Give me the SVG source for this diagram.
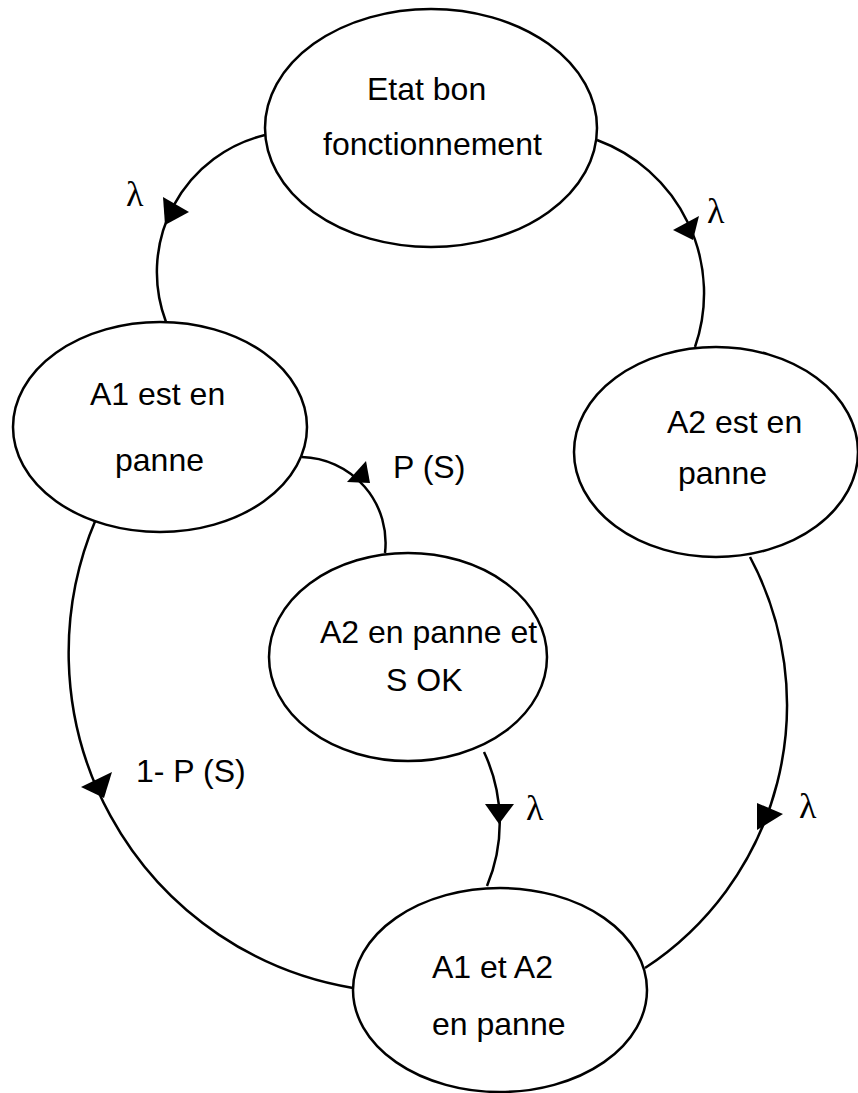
<svg xmlns="http://www.w3.org/2000/svg" width="858" height="1093" viewBox="0 0 858 1093">
  <style>
    .state { fill: #ffffff; stroke: #000000; stroke-width: 2.5; }
    .label { font-family: "Liberation Sans", Arial, sans-serif; font-size: 32px; fill: #000000; }
    .rate { font-family: "Liberation Serif", "Times New Roman", serif; font-size: 36px; fill: #000000; }
    .edge { fill: none; stroke: #000000; stroke-width: 2.5; }
    .head { fill: #000000; stroke: none; }
  </style>
  <rect width="858" height="1093" fill="#ffffff"/>

  <!-- transitions -->
  <g id="connectors">
    <path class="edge" d="M265,135 A141,141 0 0,0 166,322"/>
    <polygon class="head" points="163,197 189,212 165,225"/>
    <text class="rate" x="126" y="206">λ</text>

    <path class="edge" d="M597,140 A163.4,163.4 0 0,1 695,347"/>
    <polygon class="head" points="673,230 699,216 693,240"/>
    <text class="rate" x="707" y="223">λ</text>

    <path class="edge" d="M302,457 A86,86 0 0,1 385,553"/>
    <polygon class="head" points="347,482 366,461 370,483"/>
    <text class="label" x="393" y="478">P (S)</text>

    <path class="edge" d="M96,519 A340,340 0 0,0 353,988"/>
    <polygon class="head" points="81,787 112,772 104,798"/>
    <text class="label" x="136" y="782">1- P (S)</text>

    <path class="edge" d="M484,752 A165,165 0 0,1 487,886"/>
    <polygon class="head" points="485,804 514,804 499,824"/>
    <text class="rate" x="526" y="820">λ</text>

    <path class="edge" d="M750,557 A314.5,314.5 0 0,1 645,968"/>
    <polygon class="head" points="757,803 783,814 757,830"/>
    <text class="rate" x="799" y="818">λ</text>
  </g>

  <!-- states -->
  <g id="etat-bon">
    <ellipse class="state" cx="431" cy="128" rx="166" ry="119"/>
    <text class="label" x="367" y="100">Etat bon</text>
    <text class="label" x="323" y="155">fonctionnement</text>
  </g>

  <g id="a1-panne">
    <ellipse class="state" cx="160" cy="427" rx="147" ry="105"/>
    <text class="label" x="90" y="405">A1 est en</text>
    <text class="label" x="115" y="471">panne</text>
  </g>

  <g id="a2-panne">
    <ellipse class="state" cx="716" cy="452" rx="142" ry="105"/>
    <text class="label" x="667" y="433">A2 est en</text>
    <text class="label" x="678" y="484">panne</text>
  </g>

  <g id="a2-panne-s-ok">
    <ellipse class="state" cx="408" cy="657" rx="139" ry="104"/>
    <text class="label" x="320" y="643">A2 en panne et</text>
    <text class="label" x="386" y="691">S OK</text>
  </g>

  <g id="a1-a2-panne">
    <ellipse class="state" cx="500" cy="990" rx="147" ry="102"/>
    <text class="label" x="432" y="978">A1 et A2</text>
    <text class="label" x="432" y="1035">en panne</text>
  </g>
</svg>
